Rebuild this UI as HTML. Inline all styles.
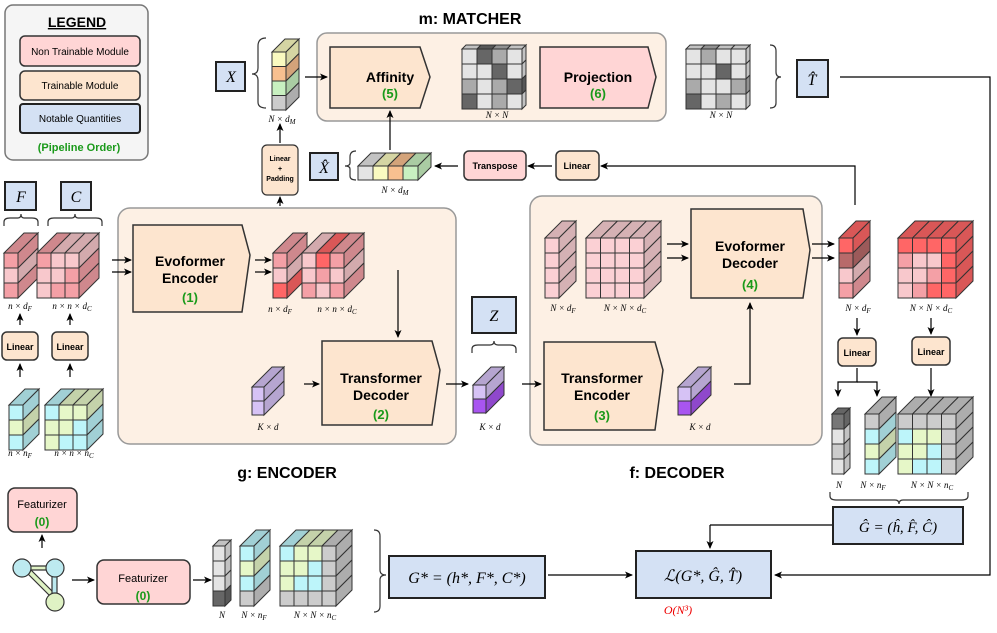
<!DOCTYPE html>
<html><head><meta charset="utf-8"><style>
html,body{margin:0;padding:0;background:#fff;}
svg{display:block;font-family:"Liberation Sans",sans-serif;}
.b{font-weight:bold;}
.m{font-family:"Liberation Serif",serif;font-style:italic;}
.g{fill:#1a9a1a;font-weight:bold;}
</style></head><body>
<svg id="s" width="997" height="633" viewBox="0 0 997 633" xmlns="http://www.w3.org/2000/svg">
<defs><marker id="a" markerWidth="8" markerHeight="8" refX="7" refY="4" orient="auto" markerUnits="userSpaceOnUse"><path d="M0,0.5 L8,4 L0,7.5 L2,4 z" fill="#000"/></marker></defs>
<rect x="5" y="5" width="143" height="155" rx="8" fill="#f5f5f5" stroke="#777" stroke-width="1.5"/>
<rect x="317" y="33" width="349" height="88" rx="10" fill="#fdf0e4" stroke="#999" stroke-width="1.5"/>
<rect x="118" y="208" width="338" height="236" rx="12" fill="#fdf0e4" stroke="#999" stroke-width="1.5"/>
<rect x="530" y="196" width="292" height="249" rx="12" fill="#fdf0e4" stroke="#999" stroke-width="1.5"/>
<text x="77" y="27" text-anchor="middle" font-size="14" class="b" text-decoration="underline">LEGEND</text>
<rect x="20" y="36" width="120" height="30" rx="5" fill="#ffd5d5" stroke="#333" stroke-width="1.5"/>
<text x="80" y="55" text-anchor="middle" font-size="10">Non Trainable Module</text>
<rect x="20" y="71" width="120" height="29" rx="5" fill="#fde5cf" stroke="#333" stroke-width="1.5"/>
<text x="80" y="89" text-anchor="middle" font-size="10">Trainable Module</text>
<rect x="20" y="104" width="120" height="29" rx="3" fill="#d4e1f4" stroke="#222" stroke-width="2"/>
<text x="80" y="122" text-anchor="middle" font-size="10">Notable Quantities</text>
<text x="79" y="151" text-anchor="middle" font-size="11" class="g">(Pipeline Order)</text>
<text x="470" y="24" text-anchor="middle" font-size="16" class="b">m: MATCHER</text>
<text x="287" y="478" text-anchor="middle" font-size="16" class="b">g: ENCODER</text>
<text x="677" y="478" text-anchor="middle" font-size="16" class="b">f: DECODER</text>
<path d="M330,47 H420 L430,77 L420,108 H330 Z" fill="#fde5cf" stroke="#333" stroke-width="1.5"/>
<text x="390" y="82" text-anchor="middle" font-size="14" class="b">Affinity</text><text x="390" y="98" text-anchor="middle" font-size="13" class="g">(5)</text>
<path d="M540,47 H648 L656,77 L648,108 H540 Z" fill="#ffd5d5" stroke="#333" stroke-width="1.5"/>
<text x="598" y="82" text-anchor="middle" font-size="14" class="b">Projection</text><text x="598" y="98" text-anchor="middle" font-size="13" class="g">(6)</text>
<path d="M133,225 H242 L250,255 L242,312 H133 Z" fill="#fde5cf" stroke="#333" stroke-width="1.5"/>
<text x="190" y="266" text-anchor="middle" font-size="14" class="b">Evoformer</text><text x="190" y="283" text-anchor="middle" font-size="14" class="b">Encoder</text><text x="190" y="302" text-anchor="middle" font-size="13" class="g">(1)</text>
<path d="M322,341 H432 L440,370 L432,425 H322 Z" fill="#fde5cf" stroke="#333" stroke-width="1.5"/>
<text x="381" y="383" text-anchor="middle" font-size="14" class="b">Transformer</text><text x="381" y="400" text-anchor="middle" font-size="14" class="b">Decoder</text><text x="381" y="419" text-anchor="middle" font-size="13" class="g">(2)</text>
<path d="M544,342 H655 L663,370 L655,430 H544 Z" fill="#fde5cf" stroke="#333" stroke-width="1.5"/>
<text x="602" y="383" text-anchor="middle" font-size="14" class="b">Transformer</text><text x="602" y="400" text-anchor="middle" font-size="14" class="b">Encoder</text><text x="602" y="420" text-anchor="middle" font-size="13" class="g">(3)</text>
<path d="M691,209 H803 L810,250 L803,298 H691 Z" fill="#fde5cf" stroke="#333" stroke-width="1.5"/>
<text x="750" y="251" text-anchor="middle" font-size="14" class="b">Evoformer</text><text x="750" y="268" text-anchor="middle" font-size="14" class="b">Decoder</text><text x="750" y="289" text-anchor="middle" font-size="13" class="g">(4)</text>
<rect x="262" y="145" width="36" height="50" rx="5" fill="#fde5cf" stroke="#333" stroke-width="1.2"/>
<text x="280" y="161" text-anchor="middle" font-size="7" class="b">Linear</text><text x="280" y="171" text-anchor="middle" font-size="7" class="b">+</text><text x="280" y="181" text-anchor="middle" font-size="7" class="b">Padding</text>
<rect x="464" y="151" width="62" height="29" rx="5" fill="#ffd5d5" stroke="#333" stroke-width="1.5"/><text x="495" y="169" text-anchor="middle" font-size="9" class="b">Transpose</text>
<rect x="556" y="151" width="43" height="29" rx="5" fill="#fde5cf" stroke="#333" stroke-width="1.5"/><text x="577" y="169" text-anchor="middle" font-size="9" class="b">Linear</text>
<rect x="2" y="332" width="36" height="28" rx="5" fill="#fde5cf" stroke="#333" stroke-width="1.5"/><text x="20" y="350" text-anchor="middle" font-size="9" class="b">Linear</text>
<rect x="52" y="332" width="36" height="28" rx="5" fill="#fde5cf" stroke="#333" stroke-width="1.5"/><text x="70" y="350" text-anchor="middle" font-size="9" class="b">Linear</text>
<rect x="838" y="338" width="38" height="28" rx="5" fill="#fde5cf" stroke="#333" stroke-width="1.5"/><text x="857" y="356" text-anchor="middle" font-size="9" class="b">Linear</text>
<rect x="912" y="337" width="38" height="28" rx="5" fill="#fde5cf" stroke="#333" stroke-width="1.5"/><text x="931" y="355" text-anchor="middle" font-size="9" class="b">Linear</text>
<rect x="8" y="488" width="69" height="44" rx="7" fill="#ffd5d5" stroke="#333" stroke-width="1.5"/><text x="42" y="508" text-anchor="middle" font-size="11">Featurizer</text><text x="42" y="526" text-anchor="middle" font-size="12" class="g">(0)</text>
<rect x="97" y="560" width="93" height="44" rx="7" fill="#ffd5d5" stroke="#333" stroke-width="1.5"/><text x="143" y="582" text-anchor="middle" font-size="11">Featurizer</text><text x="143" y="600" text-anchor="middle" font-size="12" class="g">(0)</text>
<g fill="#d4e1f4" stroke="#222" stroke-width="2">
<rect x="216" y="62" width="29" height="29"/><rect x="310" y="153" width="28" height="27"/><rect x="797" y="60" width="31" height="37"/>
<rect x="5" y="182" width="31" height="28"/><rect x="61" y="182" width="30" height="28"/><rect x="472" y="297" width="44" height="36"/>
<rect x="389" y="556" width="156" height="42"/><rect x="636" y="551" width="135" height="47"/><rect x="833" y="507" width="130" height="37"/>
</g>
<g class="m" font-size="16" text-anchor="middle">
<text x="231" y="82">X</text><text x="324" y="173">X̂</text>
<text x="812" y="85">T̂</text>
<text x="21" y="202">F</text><text x="76" y="202">C</text><text x="494" y="321">Z</text>
<text x="467" y="583" font-size="16">G* = (h*, F*, C*)</text>
<text x="703" y="581" font-size="16">ℒ(G*, Ĝ, T̂)</text>
<text x="898" y="532" font-size="15">Ĝ = (ĥ, F̂, Ĉ)</text>
<text x="678" y="614" font-size="12" fill="#e00">O(N³)</text>
</g>
<g class="m" font-size="9" text-anchor="middle">
<text x="282" y="122">N × d<tspan font-size="7" dy="2">M</tspan></text>
<text x="395" y="193">N × d<tspan font-size="7" dy="2">M</tspan></text>
<text x="497" y="118">N × N</text><text x="721" y="118">N × N</text>
<text x="20" y="309">n × d<tspan font-size="7" dy="2">F</tspan></text><text x="72" y="309">n × n × d<tspan font-size="7" dy="2">C</tspan></text>
<text x="280" y="312">n × d<tspan font-size="7" dy="2">F</tspan></text><text x="337" y="312">n × n × d<tspan font-size="7" dy="2">C</tspan></text>
<text x="20" y="456">n × n<tspan font-size="7" dy="2">F</tspan></text><text x="74" y="456">n × n × n<tspan font-size="7" dy="2">C</tspan></text>
<text x="268" y="430">K × d</text><text x="490" y="430">K × d</text><text x="700" y="430">K × d</text>
<text x="563" y="311">N × d<tspan font-size="7" dy="2">F</tspan></text><text x="625" y="311">N × N × d<tspan font-size="7" dy="2">C</tspan></text>
<text x="858" y="311">N × d<tspan font-size="7" dy="2">F</tspan></text><text x="931" y="311">N × N × d<tspan font-size="7" dy="2">C</tspan></text>
<text x="839" y="488">N</text><text x="873" y="488">N × n<tspan font-size="7" dy="2">F</tspan></text><text x="932" y="488">N × N × n<tspan font-size="7" dy="2">C</tspan></text>
<text x="222" y="618">N</text><text x="254" y="618">N × n<tspan font-size="7" dy="2">F</tspan></text><text x="315" y="618">N × N × n<tspan font-size="7" dy="2">C</tspan></text>
</g>
<g fill="none" stroke="#333" stroke-width="1.2">
<path d="M266,38 Q258,38 258,46 V68 Q258,74 252,74 Q258,74 258,80 V102 Q258,108 266,108"/>
<path d="M356,151 Q350,151 350,157 V163 Q350,166 345,166 Q350,166 350,169 V176 Q350,180 356,180"/>
<path d="M770,45 Q776,45 776,51 V72 Q776,77 781,77 Q776,77 776,82 V103 Q776,108 770,108"/>
<path d="M374,530 Q380,530 380,536 V570 Q380,575 386,575 Q380,575 380,580 V606 Q380,612 374,612"/>
<path d="M4,226 V222 Q4,218 10,218 H18 Q21,218 21,214 Q21,218 24,218 H32 Q38,218 38,222 V226"/>
<path d="M48,226 V222 Q48,218 54,218 H72 Q75,218 75,214 Q75,218 78,218 H96 Q102,218 102,222 V226"/>
<path d="M472,353 V349 Q472,345 478,345 H490 Q494,345 494,341 Q494,345 498,345 H510 Q516,345 516,349 V353"/>
<path d="M830,492 V496 Q830,500 836,500 H895 Q899,500 899,504 Q899,500 903,500 H962 Q968,500 968,496 V492"/>
</g>
<g fill="none" stroke="#000" stroke-width="1.2" marker-end="url(#a)">
<path d="M305,77 H327"/><path d="M390,150 V111"/><path d="M458,166 H435"/><path d="M552,166 H528"/>
<path d="M855,205 V166 H601"/><path d="M280,206 V197"/><path d="M280,143 V124"/>
<path d="M840,77 H990 V575 H775"/><path d="M710,525 H832" marker-end="none"/><path d="M710,525 V548"/>
<path d="M548,575 H632"/><path d="M112,260 H131"/><path d="M112,272 H131"/>
<path d="M255,260 H271"/><path d="M255,272 H271"/><path d="M398,270 V337"/>
<path d="M304,384 H319"/><path d="M446,384 H468"/><path d="M522,384 H541"/>
<path d="M734,384 H750 V303"/><path d="M667,244 H688"/><path d="M667,258 H688"/>
<path d="M812,244 H834"/><path d="M812,258 H834"/>
<path d="M857,318 V335"/><path d="M931,318 V334"/><path d="M857,368 V382 H838 V396" /><path d="M857,382 H877 V396"/><path d="M931,368 V396"/>
<path d="M20,377 V364"/><path d="M70,377 V364"/><path d="M20,325 V314"/><path d="M70,325 V314"/>
<path d="M42,548 V535"/><path d="M72,580 H94"/><path d="M193,580 H211"/>
</g>
<g stroke="#333" stroke-width="1.2">
<path d="M22,566 L55,566 L55,570 L22,570Z" fill="#dff2c4"/>
<path d="M24,570 L54,600 L57,596 L27,566Z" fill="#dff2c4"/>
<path d="M52,570 L52,596 L57,596 L57,570Z" fill="#bdeaf0"/>
<circle cx="22" cy="568" r="9" fill="#bdeaf0"/><circle cx="55" cy="568" r="9" fill="#bdeaf0"/><circle cx="55" cy="602" r="9" fill="#dff2c4"/>
</g>
<g id="cubes" stroke="#333" stroke-width="1"></g>
</svg>
<script>
var G=document.getElementById('cubes'),NS='http://www.w3.org/2000/svg';
function P(pts,f){var p=document.createElementNS(NS,'polygon');p.setAttribute('points',pts.map(function(a){return a.join(',')}).join(' '));p.setAttribute('fill',f);G.appendChild(p);}
function dk(c){var n=parseInt(c.slice(1),16),r=n>>16,g=(n>>8)&255,b=n&255;var f=0.85;return 'rgb('+Math.round(r*f)+','+Math.round(g*f)+','+Math.round(b*f)+')';}
function cube(x,y,cw,ch,dx,dy,front){var R=front.length,C=front[0].length;
 for(var c=0;c<C;c++)P([[x+c*cw,y],[x+(c+1)*cw,y],[x+(c+1)*cw+dx,y-dy],[x+c*cw+dx,y-dy]],dk(front[0][c]));
 var X=x+C*cw;for(var r=0;r<R;r++)P([[X,y+r*ch],[X+dx,y+r*ch-dy],[X+dx,y+(r+1)*ch-dy],[X,y+(r+1)*ch]],dk(front[r][C-1]));
 for(r=0;r<R;r++)for(c=0;c<C;c++)P([[x+c*cw,y+r*ch],[x+(c+1)*cw,y+r*ch],[x+(c+1)*cw,y+(r+1)*ch],[x+c*cw,y+(r+1)*ch]],front[r][c]);}
var p1='#f8c8cc',p2='#f4a0a6',p3='#ff6666',pl='#fbd0d4',cy='#bdf5fa',gr='#e6f7c8',gy='#cccccc',lg='#e4e4e4',dg='#666666',pu='#d6c2f5',pv='#a855f0',yl='#fafac0',or='#f8c090',ln='#c8f0c0';
cube(4,253,14,15,20,20,[[p2],[p1],[p2]]);
cube(37,253,14,15,20,20,[[p2,p1,p1],[p1,p1,p2],[p1,p2,p2]]);
cube(273,253,14,15,20,20,[[p2],[p1],[p3]]);
cube(302,253,14,15,20,20,[[p1,p3,p2],[p1,p2,p1],[p2,p1,p2]]);
cube(9,405,14,15,16,16,[[cy],[gr],[cy]]);
cube(45,405,14,15,16,16,[[cy,gr,gr],[gr,gr,cy],[gr,cy,cy]]);
cube(252,387,12,14,20,20,[[pu],[pu]]);
cube(473,385,13,14,18,18,[[pu],[pv]]);
cube(678,387,13,14,20,20,[[pu],[pv]]);
cube(545,238,14,15,17,17,[[pl],[pl],[pl],[pl]]);
cube(586,238,14.5,15,17,17,[[pl,pl,pl,pl],[pl,pl,pl,pl],[pl,pl,pl,pl],[pl,pl,pl,pl]]);
cube(839,238,14,15,17,17,[[p3],['#b86a6a'],[p1],[p2]]);
cube(898,238,14.5,15,17,17,[[p3,p3,p3,p3],[p2,p1,p1,p3],[p1,p1,p2,p3],[p1,p2,p3,p3]]);
cube(832,414,12,15,6,6,[['#777777'],[lg],[gy],[lg]]);
cube(865,414,14,15,17,17,[[gy],[cy],[gr],[cy]]);
cube(898,414,14.5,15,17,17,[[gy,gy,gy,gy],[cy,gr,gr,gy],[gr,gr,cy,gy],[gr,cy,cy,gy]]);
cube(213,546,12,15,6,6,[[lg],[lg],[lg],[dg]]);
cube(240,546,14,15,16,16,[[cy],[gr],[cy],[gy]]);
cube(280,546,14,15,16,16,[[cy,gr,gr,gy],[gr,gr,cy,gy],[gr,cy,cy,gy],[gy,gy,gy,gy]]);
cube(272,52,14,14.5,13,13,[[yl],[or],[ln],[gy]]);
cube(358,166,15,14,13,13,[[lg,yl,or,ln]]);
cube(462,49,15,15,4,4,[[lg,dg,'#aaaaaa',lg],[lg,lg,dg,lg],['#aaaaaa',lg,'#aaaaaa',dg],[dg,lg,'#aaaaaa',lg]]);
cube(686,49,15,15,4,4,[[lg,'#aaaaaa',lg,lg],[lg,lg,dg,lg],['#aaaaaa',lg,lg,'#aaaaaa'],[dg,lg,'#aaaaaa',lg]]);
</script>
</body></html>
